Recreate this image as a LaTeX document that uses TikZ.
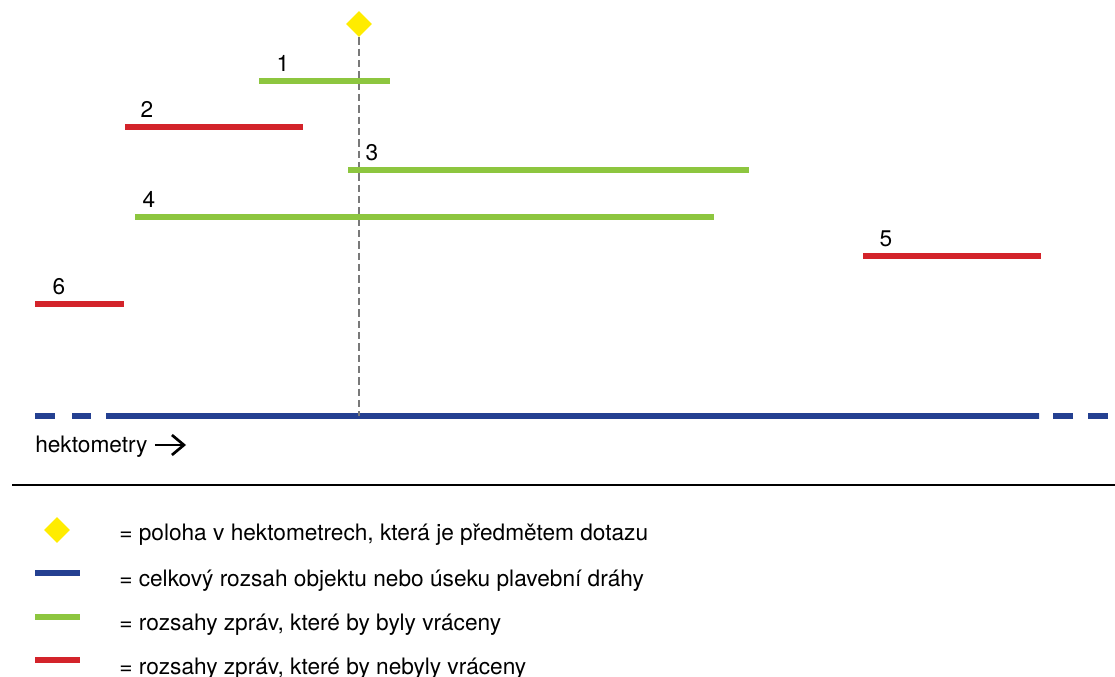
\documentclass[tikz,border=0pt]{standalone}
\usepackage{fontspec}
\setmainfont{TeX Gyre Heros}
\usetikzlibrary{shapes.geometric,arrows.meta}
\definecolor{queryyellow}{RGB}{255,236,0}
\definecolor{wayblue}{RGB}{36,64,145}
\definecolor{okgreen}{RGB}{141,198,63}
\definecolor{norred}{RGB}{211,35,42}
\begin{document}
\begin{tikzpicture}[x=0.75pt, y=-0.75pt, font=\fontsize{17}{20}\selectfont,
		query/.style={diamond,fill=queryyellow,inner sep=0pt,minimum size=19.5pt},
		segline/.style={line width=3.9pt},
		way/.style={segline,draw=wayblue},
		ok/.style={segline,draw=okgreen},
		nok/.style={segline,draw=norred},
		numlabel/.style={anchor=base,inner sep=0pt},
		legtext/.style={anchor=base west,inner sep=0pt}]
	\useasboundingbox (0,0) rectangle (1115,677);

	% position asked for
	\node[query] (pos) at (359,24) {};

	% whole object / fairway section
	\coordinate (wayL) at (35,416);
	\coordinate (wayA) at (106,416);
	\coordinate (wayB) at (1039,416);
	\coordinate (wayR) at (1108,416);
	\draw[way, dash pattern=on 15pt off 12.75pt on 14.25pt off 11.25pt] (wayL) -- (wayA);
	\draw[way] (wayA) -- (wayB);
	\draw[way, dash pattern=on 15pt off 11.25pt on 15pt off 10.5pt] (wayR) -- (wayB);
	\draw[gray!95!black, line width=2pt, dash pattern=on 5.5pt off 3pt] (pos.south) -- (pos |- wayA);

	% message ranges
	\foreach \n/\a/\b/\y/\lx/\c in {1/259/390/81/283/ok, 2/125/303/127/147/nok,
			3/348/749/170/372/ok, 4/135/714/217/149/ok,
			5/863/1041/256/886/nok, 6/35/124/304/59/nok} {
		\coordinate (s\n) at (\a,\y);
		\coordinate (e\n) at (\b,\y);
		\draw[\c] (s\n) -- (e\n);
		\node[numlabel] (l\n) at (\lx,\y-9) {\n};
	}

	\node[legtext] (hm) at (35,453) {hektometry};
	\coordinate (hmEnd) at (186,445);
	\draw[line width=2pt, -{Straight Barb[length=9pt,width=15pt,line width=2pt]}] (hm.east |- hmEnd) ++(7,0) coordinate (hmStart) -- (hmEnd);

	\coordinate (sepL) at (12,485);
	\coordinate (sepR) at (1115,485);
	\draw[line width=1.5pt] (sepL) -- (sepR);

	% legend
	\node[query] (kpos) at (57,530) {};
	\node[legtext] (tpos) at (119,541) {= poloha v hektometrech, která je předmětem dotazu};
	\foreach \k/\y/\yt/\c/\t in {way/573/586/way/{= celkový rozsah objektu nebo úseku plavební dráhy},
			ok/617/630/ok/{= rozsahy zpráv, které by byly vráceny},
			nok/660/674/nok/{= rozsahy zpráv, které by nebyly vráceny}} {
		\coordinate (k\k L) at (35,\y);
		\coordinate (k\k R) at (80,\y);
		\draw[\c] (k\k L) -- (k\k R);
		\node[legtext] (t\k) at (119,\yt) {\t};
	}
\end{tikzpicture}
\end{document}
